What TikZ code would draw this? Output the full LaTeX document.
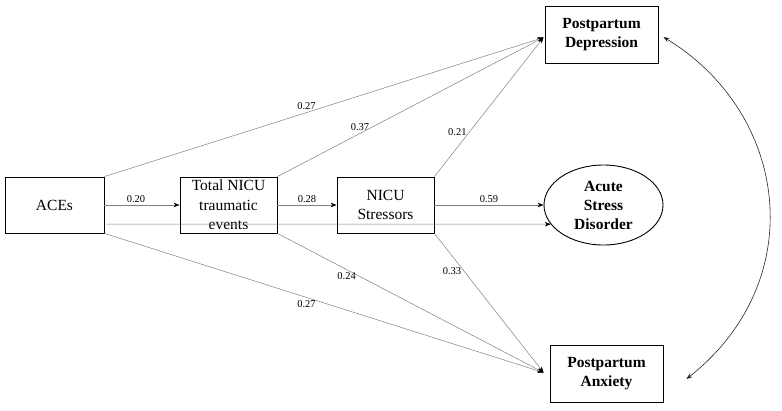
\documentclass[tikz,border=0pt]{standalone}
\usepackage{fontspec}
\setmainfont{Liberation Serif}
\usetikzlibrary{arrows.meta}
\usetikzlibrary{shapes.geometric}

\begin{document}
\begin{tikzpicture}[x=1pt,y=-1pt,
 box/.style={draw,line width=0.9pt,inner sep=0pt,align=center,minimum height=56pt,font=\fontsize{15.5}{19.5}\selectfont},
 bold/.style={font=\bfseries\fontsize{15.5}{19}\selectfont},
 oval/.style={ellipse,draw,line width=0.9pt,inner sep=0pt,align=center,minimum width=119pt,minimum height=80pt},
 link/.style={draw=black!50,line width=0.5pt,-{Stealth[black,length=6pt,width=4.5pt]}},
 coef/.style={font=\fontsize{10.5}{12}\selectfont,inner sep=2.5pt}]
\useasboundingbox (0,0) rectangle (782,410);
% predictors
\node[box,minimum width=99pt] (aces) at (54.5,205) {ACEs};
\node[box,minimum width=97pt] (nicu) at (228.5,205) {Total NICU\\traumatic\\events};
\node[box,minimum width=97pt] (stress) at (385.5,205) {NICU\\Stressors};
% outcomes
\node[box,bold,minimum width=113pt,minimum height=57pt] (ppd) at (601.5,34.5) {Postpartum\\Depression};
\node[oval,bold] (asd) at (603.5,205) {Acute\\Stress\\Disorder};
\node[box,bold,minimum width=113pt,minimum height=57pt] (ppa) at (606.5,373.5) {Postpartum\\Anxiety};
\coordinate (ppdin) at ([xshift=-1pt,yshift=-3pt]ppd.west);
\coordinate (ppain) at ([xshift=-6pt,yshift=1pt]ppa.west);
% paths
\draw[link] (aces) -- node[coef,above,pos=0.42]{0.20} (nicu);
\draw[link] (nicu) -- node[coef,above]{0.28} (stress);
\draw[link] (stress) -- node[coef,above]{0.59} (asd);
\draw[link] ([xshift=2pt,yshift=-19pt]aces.east) -- (asd.200);
\draw[link] (aces.north east) -- node[coef,above,pos=0.46]{0.27} (ppdin);
\draw[link] (nicu.north east) -- node[coef,above,pos=0.31]{0.37} (ppdin);
\draw[link] (stress.north east) -- node[coef,left,pos=0.32]{0.21} (ppdin);
\draw[link] (aces.south east) -- node[coef,below,pos=0.46]{0.27} (ppain);
\draw[link] (nicu.south east) -- node[coef,below,pos=0.26]{0.24} (ppain);
\draw[link] (stress.south east) -- node[coef,left,pos=0.27]{0.33} (ppain);
% covariance
\draw[black!85,line width=0.6pt,{Stealth[length=6pt,width=4.5pt]}-{Stealth[length=6pt,width=4.5pt]}] ([xshift=5pt,yshift=-2.5pt]ppd.east) .. controls +(126,77) and +(124,-98) .. ([xshift=23pt,yshift=-5.5pt]ppa.east);
\end{tikzpicture}
\end{document}
